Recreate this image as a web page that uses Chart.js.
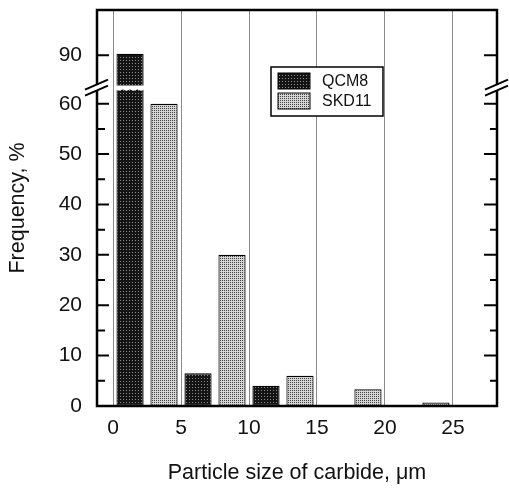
<!DOCTYPE html>
<html lang="en">
<head>
<meta charset="UTF-8">
<title>Carbide particle size distribution</title>
<script src="https://cdn.jsdelivr.net/npm/chart.js"></script>
<style>
  html, body { margin: 0; padding: 0; background: #fff; }
</style>
</head>
<body>
<canvas id="myChart" width="509" height="488"></canvas>
<script>
// bin centres (um) and frequency (%) per steel
const binCentres = [2.5, 7.5, 12.5, 17.5, 22.5];
const qcm8 = [91, 6.5, 4, 0, 0];
const skd11 = [60, 30, 6, 3.3, 0.7];
const xTicks = [0, 5, 10, 15, 20, 25];
const yTicks = [0, 10, 20, 30, 40, 50, 60, 90];
const yMinorTicks = [5, 15, 25, 35, 45, 55];

// y axis is broken above 60, the part above is squeezed
const BREAK = 60;
const SQUEEZE = 0.32;
const BREAK_MARK = 70;
function toAxis(v) {
    return v <= BREAK ? v : BREAK + (v - BREAK) * SQUEEZE;
}

const ctx = document.getElementById('myChart').getContext('2d');

// small dot textures for the bars
function stipple(bg, dot, size) {
    const c = document.createElement('canvas');
    c.width = size;
    c.height = size;
    const g = c.getContext('2d');
    g.fillStyle = bg;
    g.fillRect(0, 0, size, size);
    g.fillStyle = dot;
    g.fillRect(0, 0, 1, 1);
    return ctx.createPattern(c, 'repeat');
}
const darkFill = stipple('#141414', '#8c8c8c', 3);
const lightFill = stipple('#d6d6d6', '#404040', 2);

// frame, inward ticks, axis break and legend
const decorations = {
    id: 'decorations',
    afterDatasetsDraw(chart) {
        const g = chart.ctx;
        const y = chart.scales.y;
        const yb = y.getPixelForValue(toAxis(BREAK_MARK));
        // white cut through the tall bar
        const bar = chart.getDatasetMeta(0).data[0];
        const half = bar.width / 2 + 1;
        g.save();
        g.fillStyle = '#fff';
        g.beginPath();
        g.moveTo(bar.x - half, yb - 2);
        g.lineTo(bar.x + half, yb - 2);
        for (let i = 0; i <= 8; i++) {
            const px = bar.x + half - i * (2 * half / 8);
            g.lineTo(px, yb + 2 + (i % 2 ? 1.2 : 0));
        }
        g.closePath();
        g.fill();
        g.restore();
    },
    afterDraw(chart) {
        const g = chart.ctx;
        const a = chart.chartArea;
        const y = chart.scales.y;
        g.save();
        g.strokeStyle = '#000';
        g.lineWidth = 2.5;
        g.strokeRect(a.left, a.top, a.right - a.left, a.bottom - a.top);

        // inward ticks on both sides
        g.lineWidth = 2;
        g.beginPath();
        yTicks.forEach(v => {
            const py = y.getPixelForValue(toAxis(v));
            g.moveTo(a.left, py); g.lineTo(a.left + 12, py);
            g.moveTo(a.right, py); g.lineTo(a.right - 13, py);
        });
        yMinorTicks.forEach(v => {
            const py = y.getPixelForValue(v);
            g.moveTo(a.left, py); g.lineTo(a.left + 8, py);
            g.moveTo(a.right, py); g.lineTo(a.right - 7, py);
        });
        g.stroke();

        // break marks
        const yb = y.getPixelForValue(toAxis(BREAK_MARK));
        [a.left, a.right].forEach(ax => {
            g.fillStyle = '#fff';
            g.fillRect(ax - 2, yb - 3, 4, 6);
            g.lineWidth = 2;
            g.beginPath();
            g.moveTo(ax - 12, yb + 2); g.lineTo(ax + 11, yb - 8);
            g.moveTo(ax - 12, yb + 8); g.lineTo(ax + 11, yb - 2);
            g.stroke();
        });

        // legend box
        const lx = a.left + 174, ly = a.top + 57;
        g.fillStyle = '#fff';
        g.fillRect(lx, ly, 112, 49);
        g.lineWidth = 1.5;
        g.strokeRect(lx, ly, 112, 49);
        g.font = '16px "Liberation Sans", Arial, sans-serif';
        g.textBaseline = 'middle';
        chart.data.datasets.forEach((ds, i) => {
            const sy = ly + 6 + i * 20;
            g.fillStyle = ds.backgroundColor;
            g.fillRect(lx + 7, sy, 32, 16);
            g.lineWidth = 1;
            g.strokeRect(lx + 7, sy, 32, 16);
            g.fillStyle = '#111';
            g.fillText(ds.label, lx + 51, sy + 9);
        });
        g.restore();
    }
};

new Chart(ctx, {
    type: 'bar',
    data: {
        datasets: [{
            label: 'QCM8',
            data: binCentres.map((x, i) => ({ x: x, y: toAxis(qcm8[i]) })),
            backgroundColor: darkFill,
            borderColor: '#000',
            borderWidth: 1.2,
            borderSkipped: false,
            categoryPercentage: 1.0,
            barPercentage: 0.8
        }, {
            label: 'SKD11',
            data: binCentres.map((x, i) => ({ x: x, y: toAxis(skd11[i]) })),
            backgroundColor: lightFill,
            borderColor: '#000',
            borderWidth: 1.2,
            borderSkipped: false,
            categoryPercentage: 1.0,
            barPercentage: 0.8
        }]
    },
    options: {
        responsive: false,
        animation: false,
        layout: { autoPadding: false, padding: { top: 10, right: 12, left: 0, bottom: 0 } },
        plugins: {
            legend: { display: false },
            tooltip: { enabled: false }
        },
        scales: {
            x: {
                type: 'linear',
                min: -1.18,
                max: 28.24,
                offset: false,
                afterBuildTicks: s => { s.ticks = xTicks.map(v => ({ value: v })); },
                afterFit: s => {
                    s.height = 82;
                    s.paddingLeft = 0;
                    s.paddingRight = 0;
                },
                grid: { color: '#8a8a8a', lineWidth: 1, drawTicks: false, offset: false },
                border: { display: false },
                ticks: { padding: 10, color: '#111', font: { size: 21 } },
                title: {
                    display: true,
                    text: 'Particle size of carbide, μm',
                    color: '#111',
                    font: { size: 21.5 },
                    padding: { top: 0, bottom: 2 }
                }
            },
            y: {
                min: 0,
                max: 78.6,
                afterBuildTicks: s => { s.ticks = yTicks.map(v => ({ value: toAxis(v) })); },
                afterFit: s => {
                    s.width = 97;
                    s.paddingTop = 0;
                    s.paddingBottom = 0;
                },
                grid: { display: false, drawTicks: false },
                border: { display: false },
                ticks: {
                    padding: 15,
                    color: '#111',
                    font: { size: 21 },
                    callback: (val, i) => yTicks[i]
                },
                title: {
                    display: true,
                    text: 'Frequency, %',
                    color: '#111',
                    font: { size: 21.5 },
                    padding: { top: 5, bottom: 0 }
                }
            }
        }
    },
    plugins: [decorations]
});
</script>
</body>
</html>
